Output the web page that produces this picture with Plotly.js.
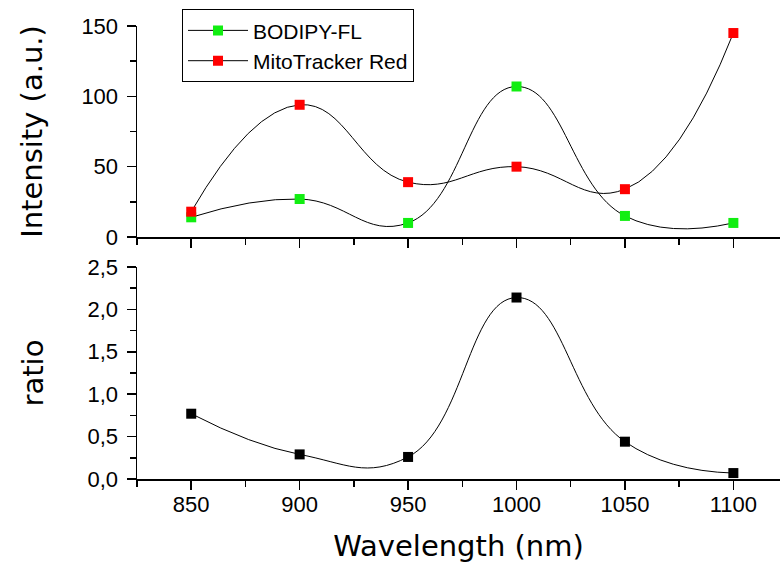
<!DOCTYPE html>
<html>
<head>
<meta charset="utf-8">
<script src="https://cdn.plot.ly/plotly-3.0.1.min.js"></script>
<style>html,body{margin:0;padding:0;background:#fff;}#chart{width:780px;height:569px;}</style>
</head>
<body>
<div id="chart"></div>
<script>
// Data
const wavelength = [850, 900, 950, 1000, 1050, 1100];
const bodipyFL = [14, 27, 10, 107, 15, 10];
const mitoTrackerRed = [18, 94, 39, 50, 34, 145];
const ratio = [0.77, 0.29, 0.26, 2.14, 0.44, 0.07];
const xTicks = [850, 900, 950, 1000, 1050, 1100];
const seriesNames = ['BODIPY-FL', 'MitoTracker Red'];

const tickFont = {family: 'Arial', size: 22, color: '#000'};
const titleFont = {family: 'DejaVu Sans', size: 29, color: '#000'};

const lineStyle = {color: '#000', width: 1, shape: 'spline', smoothing: 1.3};

const traces = [
  {x: wavelength, y: bodipyFL, xaxis: 'x2', yaxis: 'y2', mode: 'lines+markers', name: seriesNames[0],
   line: lineStyle, marker: {symbol: 'square', size: 10, color: '#11ee11'}},
  {x: wavelength, y: mitoTrackerRed, xaxis: 'x2', yaxis: 'y2', mode: 'lines+markers', name: seriesNames[1],
   line: lineStyle, marker: {symbol: 'square', size: 10, color: '#ff0000'}},
  {x: wavelength, y: ratio, xaxis: 'x', yaxis: 'y', mode: 'lines+markers', name: 'ratio', showlegend: false,
   line: lineStyle, marker: {symbol: 'square', size: 10, color: '#000000'}}
];

const commonX = {
  range: [825, 1121.5], tickvals: xTicks, ticks: 'outside', ticklen: 9, tickwidth: 1.5, tickcolor: '#000',
  showline: true, linecolor: '#000', linewidth: 1.5, showgrid: false, zeroline: false,
  minor: {dtick: 25, tick0: 825, ticks: 'outside', ticklen: 6, tickwidth: 1.5, tickcolor: '#000'},
  tickfont: tickFont, fixedrange: true
};

const layout = {
  width: 780, height: 569,
  margin: {l: 137, r: 0, t: 26, b: 90},
  paper_bgcolor: '#fff', plot_bgcolor: '#fff',
  separators: ', ',
  showlegend: true,
  xaxis: Object.assign({}, commonX, {anchor: 'y', domain: [0, 1], ticklabelstandoff: -4,
    title: {text: 'Wavelength (nm)', font: titleFont, standoff: 20}}),
  xaxis2: Object.assign({}, commonX, {anchor: 'y2', domain: [0, 1], showticklabels: false}),
  yaxis: {anchor: 'x', domain: [0, 0.468], range: [0, 2.5], dtick: 0.5, tick0: 0, tickformat: '.1f',
    ticks: 'outside', ticklen: 9, tickwidth: 1.5, tickcolor: '#000', showline: true, linecolor: '#000', linewidth: 1.5,
    showgrid: false, zeroline: false, tickfont: tickFont, ticklabelstandoff: 4,
    minor: {dtick: 0.25, ticks: 'outside', ticklen: 6, tickwidth: 1.5, tickcolor: '#000'},
    title: {text: 'ratio', font: titleFont, standoff: 35}},
  yaxis2: {anchor: 'x2', domain: [0.5342, 1], range: [0, 150], dtick: 50, tick0: 0,
    ticks: 'outside', ticklen: 9, tickwidth: 1.5, tickcolor: '#000', showline: true, linecolor: '#000', linewidth: 1.5,
    showgrid: false, zeroline: false, tickfont: tickFont, ticklabelstandoff: 4,
    minor: {dtick: 25, ticks: 'outside', ticklen: 6, tickwidth: 1.5, tickcolor: '#000'},
    title: {text: 'Intensity (a.u.)', font: titleFont, standoff: 30}},
  legend: {x: 0.07, y: 1.037, xanchor: 'left', yanchor: 'top', bgcolor: '#fff', bordercolor: '#000', borderwidth: 1,
    itemwidth: 60, font: {family: 'Arial', size: 21, color: '#000'}, tracegroupgap: 0}
};

Plotly.newPlot('chart', traces, layout, {displayModeBar: false, staticPlot: true});
</script>
</body>
</html>
